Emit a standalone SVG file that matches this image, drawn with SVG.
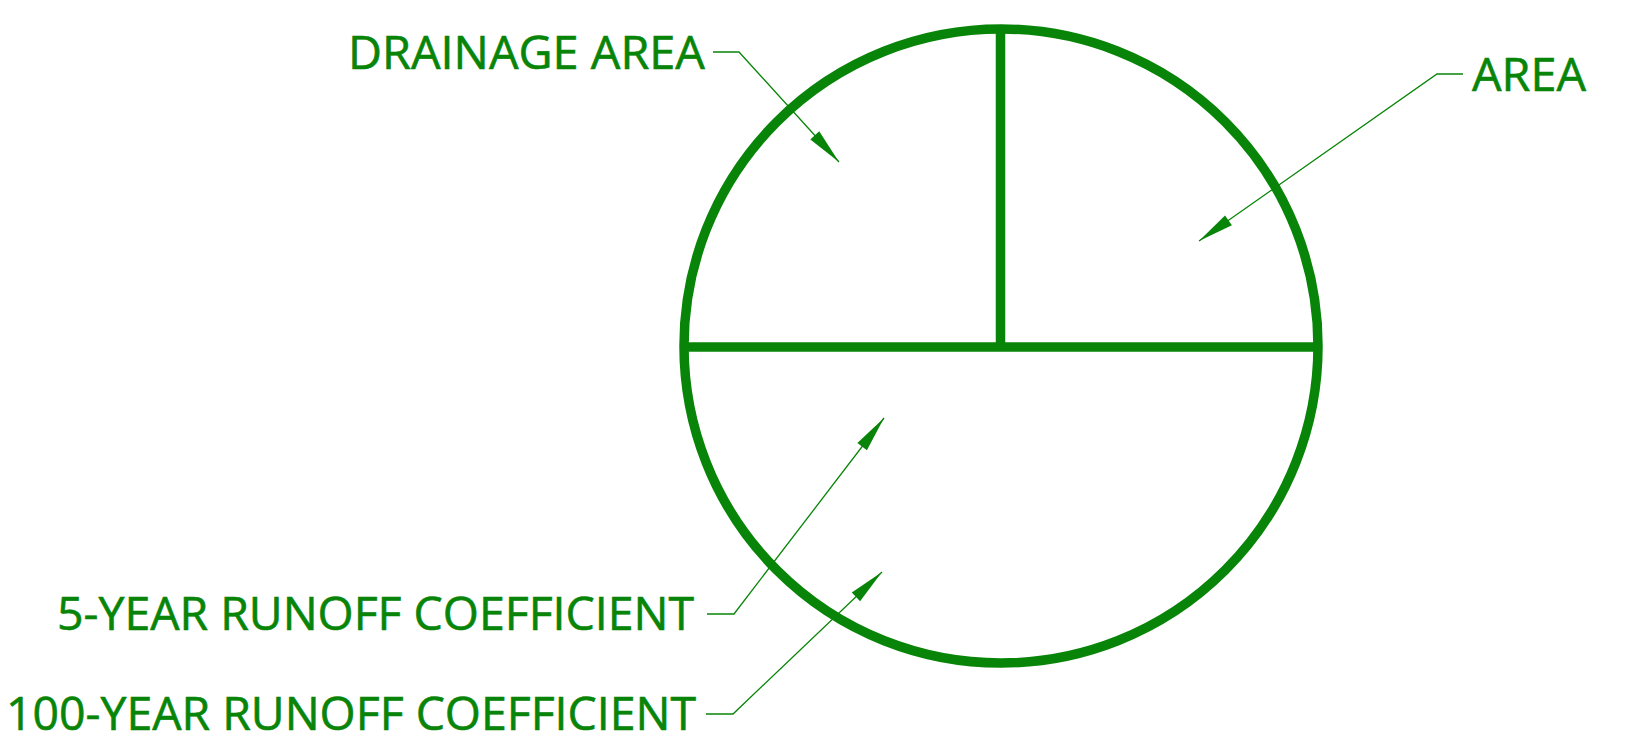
<svg xmlns="http://www.w3.org/2000/svg" width="1625" height="738" viewBox="0 0 1625 738">
<style>
.lbl{font-family:"Open Sans","Noto Sans","Liberation Sans",sans-serif;font-size:46px;fill:#088508;stroke:#088508;stroke-width:0.6}
.thick{stroke:#088508;stroke-width:9.5;fill:none}
.lead{stroke:#088508;stroke-width:1.3;fill:none}
</style>
<defs>
<marker id="ah" markerUnits="userSpaceOnUse" markerWidth="37" markerHeight="13" refX="36" refY="6" orient="auto" overflow="visible">
<path d="M0,0 L36,6 L0,12 Z" fill="#088508"/>
</marker>
</defs>
<rect width="1625" height="738" fill="#ffffff"/>
<g id="symbol">
<circle class="thick" cx="1001" cy="346" r="317"/>
<line class="thick" x1="684" y1="347" x2="1318" y2="347"/>
<line class="thick" x1="1000.5" y1="30" x2="1000.5" y2="347"/>
</g>
<g id="label-drainage-area">
<text class="lbl" x="348" y="69" textLength="357" lengthAdjust="spacingAndGlyphs">DRAINAGE AREA</text>
</g>
<g id="label-area">
<text class="lbl" x="1472" y="91" textLength="114" lengthAdjust="spacingAndGlyphs">AREA</text>
</g>
<g id="label-5yr">
<text class="lbl" x="57" y="630" textLength="637" lengthAdjust="spacingAndGlyphs">5-YEAR RUNOFF COEFFICIENT</text>
</g>
<g id="label-100yr">
<text class="lbl" x="6" y="730" textLength="690" lengthAdjust="spacingAndGlyphs">100-YEAR RUNOFF COEFFICIENT</text>
</g>
<g id="connectors">
<polyline class="lead" points="713,52 739,52 839,162" marker-end="url(#ah)"/>
<polyline class="lead" points="1463,74 1437,74 1199,241" marker-end="url(#ah)"/>
<polyline class="lead" points="707,614 734,614 884,418" marker-end="url(#ah)"/>
<polyline class="lead" points="706,714 733,714 882,572" marker-end="url(#ah)"/>
</g>
</svg>
